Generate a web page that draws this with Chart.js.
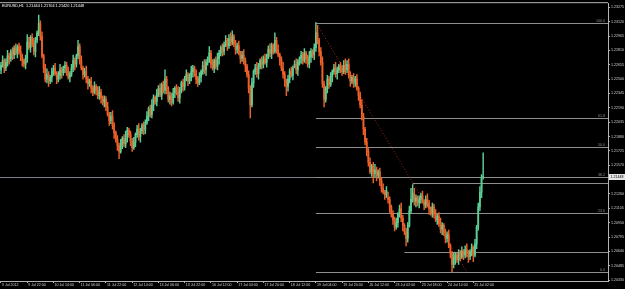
<!DOCTYPE html>
<html>
<head>
<meta charset="utf-8">
<script src="https://cdn.jsdelivr.net/npm/chart.js@4.4.0/dist/chart.umd.min.js"></script>
<style>
  html, body { margin: 0; padding: 0; background: #000; }
  #wrap { position: relative; width: 625px; height: 289px; }
</style>
</head>
<body>
<div id="wrap"><canvas id="chart" width="625" height="289"></canvas></div>
<script>
// EURUSD H1, 9 Jul 2012 06:00 .. 25 Jul 2012 08:00, one entry per bar
const symbolTitle = "EURUSD,H1  1.21444 1.21704 1.21420 1.21448";

const timeLabels = [
  "9 Jul 2012", "9 Jul 22:00", "10 Jul 14:00", "11 Jul 06:00", "11 Jul 22:00",
  "12 Jul 14:00", "13 Jul 06:00", "13 Jul 22:00", "16 Jul 12:00", "17 Jul 04:00",
  "17 Jul 20:00", "18 Jul 12:00", "19 Jul 04:00", "19 Jul 20:00", "20 Jul 12:00",
  "23 Jul 02:00", "23 Jul 18:00", "24 Jul 10:00", "25 Jul 02:00"
];
const barsPerLabel = 16;

const priceTicks = [
  1.20330, 1.20485, 1.20640, 1.20795, 1.20950, 1.21105, 1.21260,
  1.21570, 1.21725, 1.21880, 1.22035, 1.22190, 1.22345, 1.22500,
  1.22655, 1.22810, 1.22965, 1.23120, 1.23275
];

const opens = [
  1.2260,1.2265,1.2270,1.2262,1.2268,1.2275,1.2272,1.2280,1.2276,1.2283,
  1.2278,1.2285,1.2280,1.2274,1.2270,1.2266,1.2272,1.2290,1.2284,1.2295,
  1.2288,1.2280,1.2292,1.2300,1.2310,1.2296,1.2275,1.2262,1.2250,1.2255,
  1.2248,1.2252,1.2258,1.2262,1.2256,1.2250,1.2254,1.2260,1.2257,1.2262,
  1.2265,1.2258,1.2252,1.2256,1.2262,1.2270,1.2266,1.2275,1.2285,1.2270,
  1.2262,1.2255,1.2258,1.2250,1.2245,1.2248,1.2240,1.2236,1.2242,1.2238,
  1.2232,1.2236,1.2230,1.2225,1.2228,1.2220,1.2212,1.2205,1.2210,1.2200,
  1.2192,1.2185,1.2178,1.2172,1.2180,1.2186,1.2180,1.2188,1.2195,1.2190,
  1.2183,1.2176,1.2182,1.2190,1.2196,1.2188,1.2194,1.2200,1.2195,1.2203,
  1.2210,1.2218,1.2212,1.2222,1.2230,1.2226,1.2235,1.2240,1.2233,1.2244,
  1.2238,1.2250,1.2240,1.2228,1.2232,1.2225,1.2235,1.2240,1.2236,1.2230,
  1.2238,1.2246,1.2242,1.2250,1.2255,1.2248,1.2252,1.2258,1.2262,1.2256,
  1.2250,1.2246,1.2252,1.2258,1.2265,1.2260,1.2268,1.2272,1.2278,1.2266,
  1.2262,1.2270,1.2264,1.2272,1.2278,1.2284,1.2280,1.2287,1.2292,1.2286,
  1.2294,1.2290,1.2296,1.2288,1.2282,1.2286,1.2278,1.2272,1.2276,1.2270,
  1.2264,1.2255,1.2240,1.2222,1.2246,1.2258,1.2262,1.2256,1.2264,1.2270,
  1.2266,1.2272,1.2268,1.2275,1.2282,1.2278,1.2286,1.2280,1.2292,1.2282,
  1.2276,1.2270,1.2262,1.2255,1.2248,1.2242,1.2250,1.2258,1.2254,1.2262,
  1.2266,1.2260,1.2268,1.2272,1.2276,1.2270,1.2278,1.2272,1.2266,1.2274,
  1.2280,1.2276,1.2284,1.2300,1.2292,1.2280,1.2268,1.2245,1.2228,1.2240,
  1.2250,1.2244,1.2252,1.2258,1.2262,1.2256,1.2260,1.2264,1.2262,1.2258,
  1.2265,1.2260,1.2266,1.2255,1.2248,1.2252,1.2246,1.2250,1.2240,1.2232,
  1.2222,1.2210,1.2196,1.2182,1.2172,1.2160,1.2150,1.2156,1.2148,1.2152,
  1.2146,1.2150,1.2140,1.2132,1.2128,1.2125,1.2122,1.2120,1.2112,1.2104,
  1.2098,1.2090,1.2095,1.2104,1.2110,1.2100,1.2092,1.2085,1.2078,1.2092,
  1.2108,1.2120,1.2126,1.2118,1.2122,1.2116,1.2120,1.2124,1.2118,1.2114,
  1.2120,1.2116,1.2110,1.2106,1.2112,1.2104,1.2098,1.2102,1.2094,1.2088,
  1.2092,1.2084,1.2078,1.2082,1.2070,1.2062,1.2050,1.2056,1.2060,1.2055,
  1.2062,1.2058,1.2064,1.2060,1.2066,1.2062,1.2058,1.2064,1.2068,1.2060,
  1.2072,1.2090,1.2112,1.2128,1.21444
];

const highs = [
  1.2268,1.2275,1.2272,1.2272,1.2281,1.2278,1.2282,1.2284,1.2286,1.2288,
  1.2287,1.2289,1.2286,1.2277,1.2272,1.2276,1.2298,1.2295,1.2297,1.2299,
  1.2294,1.2295,1.2302,1.2319,1.2313,1.2301,1.2277,1.2266,1.2261,1.2258,
  1.2254,1.2262,1.2265,1.2267,1.2258,1.2258,1.2266,1.2263,1.2264,1.2269,
  1.2268,1.2263,1.2258,1.2266,1.2276,1.2273,1.2277,1.2292,1.2288,1.2275,
  1.2264,1.2262,1.2264,1.2253,1.2250,1.2252,1.2243,1.2247,1.2244,1.2242,
  1.2242,1.2239,1.2232,1.2232,1.2231,1.2225,1.2214,1.2214,1.2216,1.2203,
  1.2194,1.2189,1.2181,1.2185,1.2188,1.2190,1.2194,1.2198,1.2197,1.2194,
  1.2186,1.2187,1.2192,1.2200,1.2202,1.2197,1.2202,1.2204,1.2206,1.2215,
  1.2220,1.2222,1.2228,1.2233,1.2232,1.2239,1.2243,1.2245,1.2246,1.2248,
  1.2260,1.2253,1.2242,1.2236,1.2235,1.2240,1.2242,1.2244,1.2242,1.2241,
  1.2248,1.2250,1.2253,1.2260,1.2257,1.2256,1.2264,1.2265,1.2264,1.2260,
  1.2253,1.2257,1.2260,1.2269,1.2271,1.2271,1.2274,1.2285,1.2281,1.2271,
  1.2272,1.2274,1.2278,1.2281,1.2286,1.2288,1.2290,1.2297,1.2294,1.2298,
  1.2300,1.2302,1.2298,1.2292,1.2289,1.2291,1.2280,1.2280,1.2282,1.2273,
  1.2266,1.2259,1.2243,1.2251,1.2260,1.2266,1.2268,1.2267,1.2272,1.2274,
  1.2275,1.2277,1.2277,1.2286,1.2288,1.2289,1.2288,1.2300,1.2295,1.2287,
  1.2278,1.2274,1.2268,1.2258,1.2250,1.2254,1.2261,1.2263,1.2264,1.2270,
  1.2272,1.2271,1.2274,1.2280,1.2279,1.2283,1.2280,1.2276,1.2280,1.2283,
  1.2282,1.2288,1.2311,1.2308,1.2294,1.2284,1.2274,1.2248,1.2242,1.2254,
  1.2253,1.2257,1.2260,1.2266,1.2268,1.2263,1.2266,1.2268,1.2265,1.2270,
  1.2272,1.2270,1.2272,1.2258,1.2254,1.2256,1.2253,1.2255,1.2242,1.2236,
  1.2228,1.2213,1.2198,1.2186,1.2175,1.2165,1.2158,1.2160,1.2158,1.2155,
  1.2152,1.2154,1.2143,1.2137,1.2130,1.2134,1.2128,1.2123,1.2114,1.2108,
  1.2101,1.2100,1.2106,1.2114,1.2116,1.2103,1.2094,1.2089,1.2095,1.2113,
  1.2132,1.2136,1.2132,1.2125,1.2124,1.2124,1.2127,1.2129,1.2120,1.2124,
  1.2126,1.2119,1.2112,1.2116,1.2115,1.2109,1.2104,1.2106,1.2100,1.2095,
  1.2094,1.2088,1.2085,1.2087,1.2072,1.2064,1.2062,1.2063,1.2062,1.2066,
  1.2065,1.2069,1.2066,1.2070,1.2072,1.2065,1.2066,1.2072,1.2070,1.2077,
  1.2092,1.2116,1.2134,1.2147,1.21704
];

const lows = [
  1.2256,1.2263,1.2257,1.2259,1.2264,1.2266,1.2269,1.2271,1.2272,1.2276,
  1.2273,1.2277,1.2270,1.2264,1.2263,1.2261,1.2268,1.2282,1.2279,1.2285,
  1.2276,1.2274,1.2289,1.2297,1.2292,1.2273,1.2257,1.2247,1.2246,1.2242,
  1.2245,1.2247,1.2254,1.2254,1.2245,1.2247,1.2250,1.2251,1.2254,1.2257,
  1.2254,1.2250,1.2247,1.2253,1.2258,1.2260,1.2263,1.2272,1.2266,1.2260,
  1.2250,1.2252,1.2246,1.2239,1.2242,1.2235,1.2232,1.2234,1.2233,1.2229,
  1.2228,1.2224,1.2222,1.2220,1.2216,1.2210,1.2200,1.2202,1.2196,1.2186,
  1.2182,1.2173,1.2164,1.2170,1.2175,1.2177,1.2176,1.2182,1.2187,1.2178,
  1.2172,1.2174,1.2177,1.2187,1.2184,1.2182,1.2191,1.2190,1.2191,1.2201,
  1.2205,1.2209,1.2208,1.2216,1.2223,1.2221,1.2231,1.2231,1.2228,1.2235,
  1.2234,1.2234,1.2225,1.2223,1.2221,1.2223,1.2230,1.2233,1.2226,1.2224,
  1.2235,1.2237,1.2238,1.2248,1.2243,1.2245,1.2248,1.2252,1.2253,1.2245,
  1.2242,1.2244,1.2247,1.2255,1.2256,1.2254,1.2265,1.2268,1.2262,1.2260,
  1.2257,1.2261,1.2260,1.2266,1.2275,1.2275,1.2276,1.2285,1.2281,1.2283,
  1.2286,1.2287,1.2285,1.2277,1.2278,1.2276,1.2267,1.2269,1.2266,1.2258,
  1.2252,1.2235,1.2208,1.2220,1.2241,1.2255,1.2252,1.2250,1.2261,1.2261,
  1.2262,1.2266,1.2263,1.2272,1.2274,1.2272,1.2277,1.2278,1.2278,1.2274,
  1.2265,1.2259,1.2251,1.2242,1.2232,1.2237,1.2246,1.2252,1.2249,1.2263,
  1.2256,1.2254,1.2265,1.2267,1.2266,1.2268,1.2267,1.2263,1.2262,1.2268,
  1.2273,1.2271,1.2280,1.2288,1.2275,1.2265,1.2241,1.2220,1.2225,1.2235,
  1.2240,1.2242,1.2247,1.2255,1.2252,1.2250,1.2257,1.2257,1.2254,1.2256,
  1.2255,1.2257,1.2251,1.2242,1.2245,1.2241,1.2242,1.2238,1.2227,1.2219,
  1.2206,1.2190,1.2179,1.2167,1.2156,1.2148,1.2145,1.2138,1.2144,1.2140,
  1.2143,1.2135,1.2128,1.2126,1.2120,1.2122,1.2116,1.2106,1.2101,1.2093,
  1.2086,1.2088,1.2090,1.2101,1.2096,1.2086,1.2082,1.2070,1.2074,1.2090,
  1.2105,1.2117,1.2114,1.2112,1.2113,1.2111,1.2116,1.2116,1.2109,1.2111,
  1.2112,1.2104,1.2103,1.2101,1.2100,1.2096,1.2093,1.2091,1.2084,1.2082,
  1.2081,1.2073,1.2074,1.2068,1.2057,1.2042,1.2046,1.2050,1.2052,1.2050,
  1.2054,1.2056,1.2055,1.2057,1.2058,1.2052,1.2055,1.2059,1.2053,1.2058,
  1.2067,1.2087,1.2108,1.2122,1.21420
];

const closes = [
  1.2265,1.2270,1.2262,1.2268,1.2275,1.2272,1.2280,1.2276,1.2283,1.2278,
  1.2285,1.2280,1.2274,1.2270,1.2266,1.2272,1.2290,1.2284,1.2295,1.2288,
  1.2280,1.2292,1.2300,1.2310,1.2296,1.2275,1.2262,1.2250,1.2255,1.2248,
  1.2252,1.2258,1.2262,1.2256,1.2250,1.2254,1.2260,1.2257,1.2262,1.2265,
  1.2258,1.2252,1.2256,1.2262,1.2270,1.2266,1.2275,1.2285,1.2270,1.2262,
  1.2255,1.2258,1.2250,1.2245,1.2248,1.2240,1.2236,1.2242,1.2238,1.2232,
  1.2236,1.2230,1.2225,1.2228,1.2220,1.2212,1.2205,1.2210,1.2200,1.2192,
  1.2185,1.2178,1.2172,1.2180,1.2186,1.2180,1.2188,1.2195,1.2190,1.2183,
  1.2176,1.2182,1.2190,1.2196,1.2188,1.2194,1.2200,1.2195,1.2203,1.2210,
  1.2218,1.2212,1.2222,1.2230,1.2226,1.2235,1.2240,1.2233,1.2244,1.2238,
  1.2250,1.2240,1.2228,1.2232,1.2225,1.2235,1.2240,1.2236,1.2230,1.2238,
  1.2246,1.2242,1.2250,1.2255,1.2248,1.2252,1.2258,1.2262,1.2256,1.2250,
  1.2246,1.2252,1.2258,1.2265,1.2260,1.2268,1.2272,1.2278,1.2266,1.2262,
  1.2270,1.2264,1.2272,1.2278,1.2284,1.2280,1.2287,1.2292,1.2286,1.2294,
  1.2290,1.2296,1.2288,1.2282,1.2286,1.2278,1.2272,1.2276,1.2270,1.2264,
  1.2255,1.2240,1.2222,1.2246,1.2258,1.2262,1.2256,1.2264,1.2270,1.2266,
  1.2272,1.2268,1.2275,1.2282,1.2278,1.2286,1.2280,1.2292,1.2282,1.2276,
  1.2270,1.2262,1.2255,1.2248,1.2242,1.2250,1.2258,1.2254,1.2262,1.2266,
  1.2260,1.2268,1.2272,1.2276,1.2270,1.2278,1.2272,1.2266,1.2274,1.2280,
  1.2276,1.2284,1.2300,1.2292,1.2280,1.2268,1.2245,1.2228,1.2240,1.2250,
  1.2244,1.2252,1.2258,1.2262,1.2256,1.2260,1.2264,1.2262,1.2258,1.2265,
  1.2260,1.2266,1.2255,1.2248,1.2252,1.2246,1.2250,1.2240,1.2232,1.2222,
  1.2210,1.2196,1.2182,1.2172,1.2160,1.2150,1.2156,1.2148,1.2152,1.2146,
  1.2150,1.2140,1.2132,1.2128,1.2125,1.2130,1.2120,1.2112,1.2104,1.2098,
  1.2090,1.2095,1.2104,1.2110,1.2100,1.2092,1.2085,1.2078,1.2092,1.2108,
  1.2120,1.2126,1.2118,1.2122,1.2116,1.2120,1.2124,1.2118,1.2114,1.2120,
  1.2116,1.2110,1.2106,1.2112,1.2104,1.2098,1.2102,1.2094,1.2088,1.2092,
  1.2084,1.2078,1.2082,1.2070,1.2062,1.2050,1.2056,1.2060,1.2055,1.2062,
  1.2058,1.2064,1.2060,1.2066,1.2062,1.2058,1.2064,1.2068,1.2060,1.2072,
  1.2090,1.2112,1.2128,1.2144,1.21448
];

const bidPrice = 1.21448;

// Fibonacci retracement drawn from the 19 Jul high to the 24 Jul low
const fibHigh = 1.2311;
const fibLow = 1.2042;
const fibStartBar = 192;
const fibEndBar = 284;
const fibLevels = [100, 61.8, 50, 38.2, 23.6, 0];

// two horizontal rays on 23 Jul
const rayPrices = [1.2138, 1.2063];
const rayStartBars = [251, 246];

const xMin = -0.6, xMax = 370.1;
const yMin = 1.2032, yMax = 1.2332;

const bull = "#5ccf94";
const bear = "#ef6128";
const axisColor = "#b4b4b4";
const textColor = "#d2d2d2";
const levelColor = "#8e8e8e";
const tinyFont = { family: "'Liberation Sans', Arial, sans-serif", size: 3.6 };

const barColors = closes.map((c, i) => (c >= opens[i] ? bull : bear));
const wickData = highs.map((h, i) => ({ x: i, y: [lows[i], h] }));
const bodyData = closes.map((c, i) => ({ x: i, y: [opens[i], c] }));

const overlay = {
  id: "mtOverlay",
  beforeDatasetsDraw(chart) {
    const { ctx, chartArea: a, scales: { x, y } } = chart;
    const line = (x0, y0, x1, y1, color, dash) => {
      ctx.save();
      ctx.strokeStyle = color;
      ctx.lineWidth = 1;
      ctx.setLineDash(dash || []);
      ctx.beginPath();
      ctx.moveTo(x0, y0);
      ctx.lineTo(x1, y1);
      ctx.stroke();
      ctx.restore();
    };
    const snap = v => Math.round(v) + 0.5;

    // bid line across the whole chart
    const by = snap(y.getPixelForValue(bidPrice));
    line(a.left, by, a.right, by, "#7a7f86");

    // fib levels from the first anchor to the right edge
    const fx = x.getPixelForValue(fibStartBar);
    ctx.save();
    ctx.font = `${tinyFont.size}px ${tinyFont.family}`;
    ctx.fillStyle = levelColor;
    ctx.textAlign = "right";
    ctx.textBaseline = "bottom";
    fibLevels.forEach(lv => {
      const p = fibLow + (fibHigh - fibLow) * lv / 100;
      const ly = snap(y.getPixelForValue(p));
      line(fx, ly, a.right, ly, levelColor);
      ctx.fillText(lv.toFixed(1), a.right - 3, ly - 1);
    });
    ctx.restore();

    rayPrices.forEach((p, k) => {
      const ry = snap(y.getPixelForValue(p));
      line(x.getPixelForValue(rayStartBars[k]), ry, a.right, ry, levelColor);
    });

    // fib trend line, dotted
    line(fx, y.getPixelForValue(fibHigh), x.getPixelForValue(fibEndBar),
         y.getPixelForValue(fibLow), "#a3201a", [1, 2]);
  },
  afterDraw(chart) {
    const { ctx, chartArea: a, scales: { y } } = chart;
    ctx.save();
    // frame top
    ctx.strokeStyle = axisColor;
    ctx.lineWidth = 1;
    ctx.beginPath();
    ctx.moveTo(0, a.top - 0.5);
    ctx.lineTo(a.right, a.top - 0.5);
    ctx.stroke();

    ctx.font = `${tinyFont.size + 0.2}px ${tinyFont.family}`;
    ctx.fillStyle = "#ffffff";
    ctx.textBaseline = "top";
    ctx.textAlign = "left";
    ctx.fillText(symbolTitle, 2, a.top + 1);

    // current price box on the price axis
    const by = y.getPixelForValue(bidPrice);
    ctx.fillStyle = "#e6e6e6";
    ctx.fillRect(a.right + 1, Math.round(by) - 3, 16, 6);
    ctx.fillStyle = "#000000";
    ctx.font = `${tinyFont.size}px ${tinyFont.family}`;
    ctx.textBaseline = "middle";
    ctx.fillText(bidPrice.toFixed(5), a.right + 2.5, Math.round(by));
    ctx.restore();
  }
};

new Chart(document.getElementById("chart"), {
  type: "bar",
  data: {
    datasets: [
      { data: wickData, backgroundColor: barColors, barThickness: 0.8, grouped: false, order: 2 },
      { data: bodyData, backgroundColor: barColors, barThickness: 1.1, grouped: false, order: 1 }
    ]
  },
  options: {
    responsive: false,
    animation: false,
    events: [],
    layout: { padding: { top: 3, left: 0, right: 0, bottom: 0 } },
    plugins: { legend: { display: false }, tooltip: { enabled: false } },
    scales: {
      x: {
        type: "linear",
        min: xMin,
        max: xMax,
        offset: false,
        grid: { display: true, offset: false, drawOnChartArea: false, tickLength: 2, color: axisColor },
        border: { display: true, color: axisColor },
        afterBuildTicks: s => { s.ticks = timeLabels.map((_, k) => ({ value: k * barsPerLabel })); },
        afterFit: s => { s.height = 8; },
        ticks: {
          autoSkip: false,
          maxRotation: 0,
          align: "start",
          padding: 0,
          labelOffset: 1,
          color: textColor,
          font: tinyFont,
          callback: v => timeLabels[Math.round(v / barsPerLabel)]
        }
      },
      y: {
        position: "right",
        min: yMin,
        max: yMax,
        grid: { display: true, drawOnChartArea: false, tickLength: 2, color: axisColor },
        border: { display: true, color: axisColor },
        afterBuildTicks: s => { s.ticks = priceTicks.map(v => ({ value: v })); },
        afterFit: s => { s.width = 17; },
        ticks: {
          crossAlign: "near",
          padding: 1,
          color: textColor,
          font: tinyFont,
          callback: v => v.toFixed(5)
        }
      }
    }
  },
  plugins: [overlay]
});
</script>
</body>
</html>
